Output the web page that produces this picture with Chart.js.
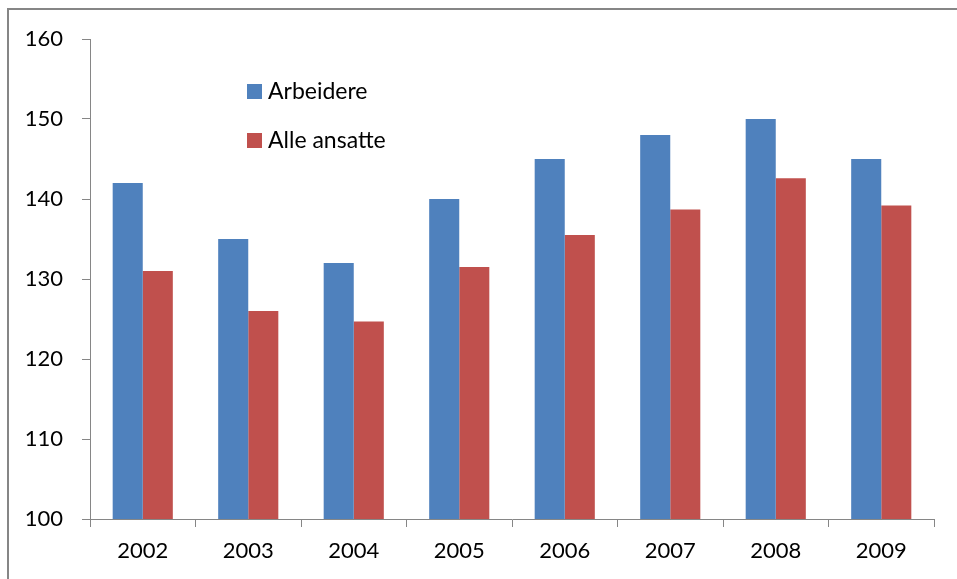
<!DOCTYPE html>
<html>
<head>
<meta charset="utf-8">
<script src="https://cdn.jsdelivr.net/npm/chart.js@4/dist/chart.umd.min.js"></script>
<style>
  html, body { margin: 0; padding: 0; background: #fff; }
  #wrap { width: 957px; height: 579px; position: relative; }
</style>
</head>
<body>
<div id="wrap"><canvas id="chart"></canvas></div>
<script>
// chart data
const years = ['2002', '2003', '2004', '2005', '2006', '2007', '2008', '2009'];
const arbeidere = [142, 135, 132, 140, 145, 148, 150, 145];
const alleAnsatte = [131, 126, 124.7, 131.5, 135.5, 138.7, 142.6, 139.2];
const yTicks = [100, 110, 120, 130, 140, 150, 160];

const BLUE = '#4f81bd';
const RED = '#c0504d';
const AXIS = '#868686';
const FONT = 'Lato, "Open Sans", sans-serif';

// outer frame (only top and left edges are visible in the picture)
const framePlugin = {
  id: 'frame',
  beforeDraw(chart) {
    const c = chart.ctx;
    c.save();
    c.strokeStyle = AXIS;
    c.lineWidth = 2;
    c.beginPath();
    c.moveTo(8, 579);
    c.lineTo(8, 9);
    c.lineTo(957, 9);
    c.stroke();
    c.restore();
  }
};

// legend drawn inside the plot area
const insideLegend = {
  id: 'insideLegend',
  afterDraw(chart) {
    const c = chart.ctx;
    c.save();
    c.font = '23px ' + FONT;
    c.textBaseline = 'middle';
    chart.data.datasets.forEach((ds, i) => {
      const y = 91 + i * 49;
      c.fillStyle = ds.backgroundColor;
      c.fillRect(247, y - 7, 15, 15);
      c.fillStyle = '#000';
      c.fillText(ds.label, 268, y + 1);
    });
    c.restore();
  }
};

new Chart(document.getElementById('chart'), {
  type: 'bar',
  data: {
    labels: years,
    datasets: [
      { label: 'Arbeidere', data: arbeidere, backgroundColor: BLUE },
      { label: 'Alle ansatte', data: alleAnsatte, backgroundColor: RED }
    ]
  },
  options: {
    responsive: true,
    maintainAspectRatio: false,
    animation: false,
    categoryPercentage: 0.57,
    barPercentage: 1,
    layout: { padding: { top: 39, right: 23, left: 0, bottom: 0 } },
    plugins: {
      legend: { display: false },
      tooltip: { enabled: false }
    },
    scales: {
      x: {
        grid: { display: true, drawOnChartArea: false, offset: true, color: AXIS, tickLength: 8 },
        border: { color: AXIS, width: 1 },
        ticks: { color: '#000', font: { family: FONT, size: 22 }, padding: 11 },
        afterFit: s => { s.height = 60; }
      },
      y: {
        min: 100,
        max: 160,
        afterBuildTicks: s => { s.ticks = yTicks.map(v => ({ value: v })); },
        grid: { display: true, drawOnChartArea: false, color: AXIS, tickLength: 8 },
        border: { color: AXIS, width: 1 },
        ticks: { color: '#000', font: { family: FONT, size: 22 }, padding: 19 },
        afterFit: s => { s.width = 90; }
      }
    }
  },
  plugins: [framePlugin, insideLegend]
});
</script>
</body>
</html>
